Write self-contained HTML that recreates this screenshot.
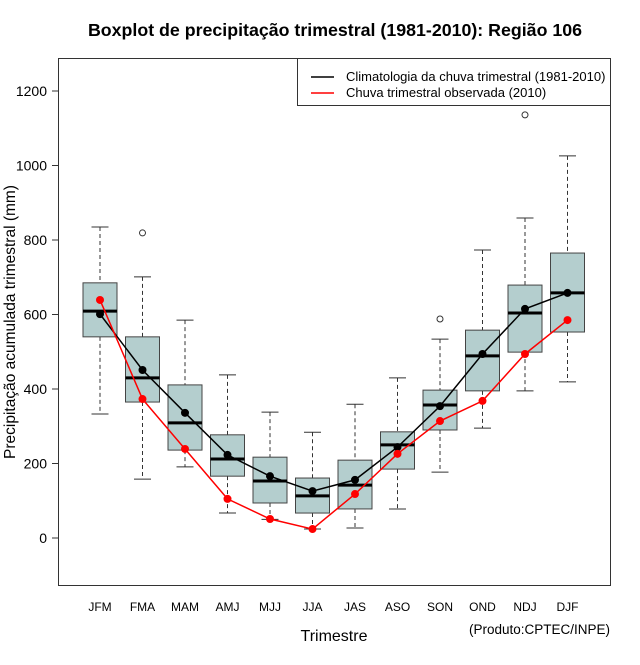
<!DOCTYPE html>
<html><head><meta charset="utf-8"><style>
body{margin:0;background:#fff;font-family:"Liberation Sans",sans-serif;}
svg text{font-family:"Liberation Sans",sans-serif;}
</style></head><body>
<svg id="c" width="640" height="660" xmlns="http://www.w3.org/2000/svg">
<text x="335" y="36" text-anchor="middle" font-size="17.8" font-weight="bold">Boxplot de precipitação trimestral (1981-2010): Região 106</text>
<rect x="58.5" y="58.5" width="552" height="527" fill="none" stroke="#333"/>
<g id="ax"></g><g id="boxes"></g><g id="lines"></g>
<g>
<rect x="297.5" y="58.5" width="313" height="47" fill="#fff" stroke="#333"/>
<line x1="311" y1="77" x2="334" y2="77" stroke="#000" stroke-width="1.5"/>
<text x="346" y="81" font-size="13">Climatologia da chuva trimestral (1981-2010)</text>
<line x1="311" y1="93" x2="334" y2="93" stroke="red" stroke-width="1.5"/>
<text x="346" y="97" font-size="13">Chuva trimestral observada (2010)</text>
</g>
<text x="334" y="641" text-anchor="middle" font-size="16">Trimestre</text>
<text x="610" y="634" text-anchor="end" font-size="13.5">(Produto:CPTEC/INPE)</text>
<text transform="translate(15,322) rotate(-90)" text-anchor="middle" font-size="15.5">Precipitação acumulada trimestral (mm)</text>
</svg>
<script>
const categories=["JFM","FMA","MAM","AMJ","MJJ","JJA","JAS","ASO","SON","OND","NDJ","DJF"];
const whiskerLow=[333,158,191,67,50,24,27,78,177,295,395,419];
const q1=[540,365,236,166,94,67,78,185,290,395,499,553];
const median=[609,430,309,212,153,113,142,250,357,489,604,658];
const q3=[685,540,411,277,217,161,209,285,397,558,679,765];
const whiskerHigh=[835,701,585,438,338,284,359,430,534,773,859,1026];
const outliers=[[1,819],[8,588],[10,1136]];
const climatology=[601,451,336,223,166,126,156,244,354,494,615,658];
const observed=[639,373,239,105,51,24,118,226,314,368,494,585];
const yTicks=[0,200,400,600,800,1000,1200];
const NS="http://www.w3.org/2000/svg";
const y=v=>538-v*0.3725;
const x=i=>100+i*42.5;
function mk(p,t,a){const e=document.createElementNS(NS,t);for(const k in a)e.setAttribute(k,a[k]);p.appendChild(e);return e;}
const ax=document.getElementById('ax'),bx=document.getElementById('boxes'),ln=document.getElementById('lines');
yTicks.forEach(t=>{
 const l=mk(ax,'line',{x1:52,x2:58.5,y1:y(t),y2:y(t),stroke:'#333'});
 
 
 const tx=mk(ax,'text',{x:47,y:y(t)+5,'text-anchor':'end','font-size':14});tx.textContent=t;
 
 
});
categories.forEach((c,i)=>{
 const tx=mk(ax,'text',{x:x(i),y:611,'text-anchor':'middle','font-size':12});tx.textContent=c;
 
 
 const g=mk(bx,'g',{});
 
 
 const X=x(i);
 mk(g,'line',{x1:X,x2:X,y1:y(whiskerHigh[i]),y2:y(q3[i]),stroke:'#333','stroke-dasharray':'4,3'});
 mk(g,'line',{x1:X,x2:X,y1:y(q1[i]),y2:y(whiskerLow[i]),stroke:'#333','stroke-dasharray':'4,3'});
 mk(g,'line',{x1:X-8.5,x2:X+8.5,y1:y(whiskerHigh[i]),y2:y(whiskerHigh[i]),stroke:'#333'});
 mk(g,'line',{x1:X-8.5,x2:X+8.5,y1:y(whiskerLow[i]),y2:y(whiskerLow[i]),stroke:'#333'});
 mk(g,'rect',{x:X-17,y:y(q3[i]),width:34,height:y(q1[i])-y(q3[i]),fill:'#b4cece',stroke:'#444'});
 mk(g,'line',{x1:X-17,x2:X+17,y1:y(median[i]),y2:y(median[i]),stroke:'#000','stroke-width':3});
});
outliers.forEach(o=>{
 const c=mk(bx,'circle',{cx:x(o[0]),cy:y(o[1]),r:3,fill:'none',stroke:'#333'});
 
 
});
[[climatology,'#000','climatology-line'],[observed,'red','observed-line']].forEach(([d,col,n])=>{
 const p=mk(ln,'polyline',{points:d.map((v,i)=>x(i)+','+y(v)).join(' '),fill:'none',stroke:col,'stroke-width':1.5});
 
 
 d.forEach((v,i)=>{const c=mk(ln,'circle',{cx:x(i),cy:y(v),r:4,fill:col});
 
 });
});
</script>
</body></html>
